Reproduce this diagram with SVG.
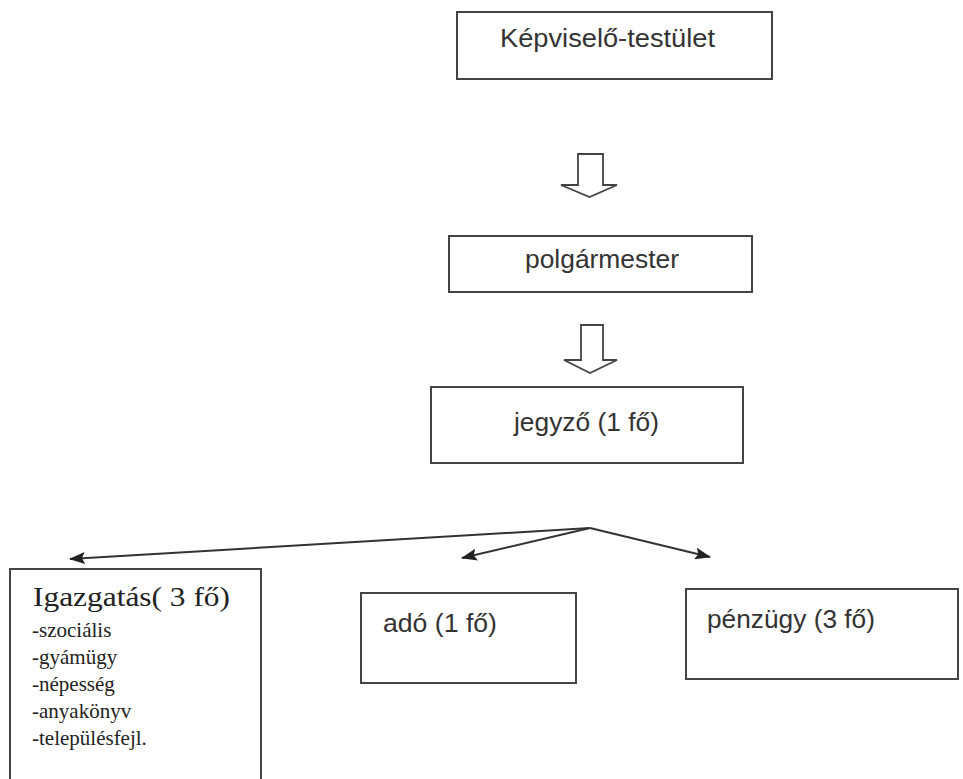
<svg xmlns="http://www.w3.org/2000/svg" width="963" height="779" viewBox="0 0 963 779">
<style>
.box{fill:#fff;stroke:#444;stroke-width:2}
.sans{font-family:"Liberation Sans",Arial,sans-serif;font-size:25px;fill:#333}
.serif{font-family:"Liberation Serif","Times New Roman",serif;fill:#222}
.title{font-size:28px}
.item{font-size:21px}
.blk{fill:#fff;stroke:#444;stroke-width:1.8;stroke-linejoin:miter}
.con{fill:none;stroke:#333;stroke-width:2}
</style>
<defs>
<marker id="ah" viewBox="0 0 10 10" refX="9" refY="5" markerWidth="8" markerHeight="7" markerUnits="userSpaceOnUse" orient="auto">
<path d="M0,0 L10,5 L0,10 z" fill="#222"/>
</marker>
<marker id="ah2" viewBox="0 0 16 12" refX="15" refY="6" markerWidth="16" markerHeight="12" markerUnits="userSpaceOnUse" orient="auto">
<path d="M0,0 L16,6 L0,12 L3,6 z" fill="#222"/>
</marker>
</defs>
<rect width="963" height="779" fill="#fff"/>
<g id="kepviselo">
<rect class="box" x="457" y="12" width="315" height="67"/>
<text class="sans" x="500" y="47" textLength="215" lengthAdjust="spacingAndGlyphs">Képviselő-testület</text>
</g>
<g id="polgarmester">
<rect class="box" x="449" y="236" width="303" height="56"/>
<text class="sans" x="525" y="268" textLength="154" lengthAdjust="spacingAndGlyphs">polgármester</text>
</g>
<g id="jegyzo">
<rect class="box" x="431" y="387" width="312" height="76"/>
<text class="sans" x="514" y="431" textLength="145" lengthAdjust="spacingAndGlyphs">jegyző (1 fő)</text>
</g>
<g id="igazgatas">
<rect class="box" x="10" y="569" width="251" height="225"/>
<text class="serif title" x="33" y="606" textLength="197" lengthAdjust="spacingAndGlyphs">Igazgatás( 3 fő)</text>
<text class="serif item" x="32" y="637">-szociális</text>
<text class="serif item" x="32" y="664">-gyámügy</text>
<text class="serif item" x="32" y="691">-népesség</text>
<text class="serif item" x="32" y="718">-anyakönyv</text>
<text class="serif item" x="32" y="745">-településfejl.</text>
</g>
<g id="ado">
<rect class="box" x="361" y="593" width="215" height="90"/>
<text class="sans" x="383" y="632" textLength="114" lengthAdjust="spacingAndGlyphs">adó (1 fő)</text>
</g>
<g id="penzugy">
<rect class="box" x="686" y="589" width="272" height="90"/>
<text class="sans" x="707" y="628" textLength="168" lengthAdjust="spacingAndGlyphs">pénzügy (3 fő)</text>
</g>
<g id="connectors">
<polygon class="blk" points="578,154 603,154 603,185 617,185 589.5,197 561,185 578,185"/>
<polygon class="blk" points="581,325 603,325 603,360 617,360 590,373 564,360 581,360"/>
<line class="con" x1="590" y1="528" x2="70" y2="559" marker-end="url(#ah2)"/>
<line class="con" x1="590" y1="528" x2="462" y2="558" marker-end="url(#ah2)"/>
<line class="con" x1="590" y1="528" x2="710" y2="557" marker-end="url(#ah2)"/>
</g>
</svg>
